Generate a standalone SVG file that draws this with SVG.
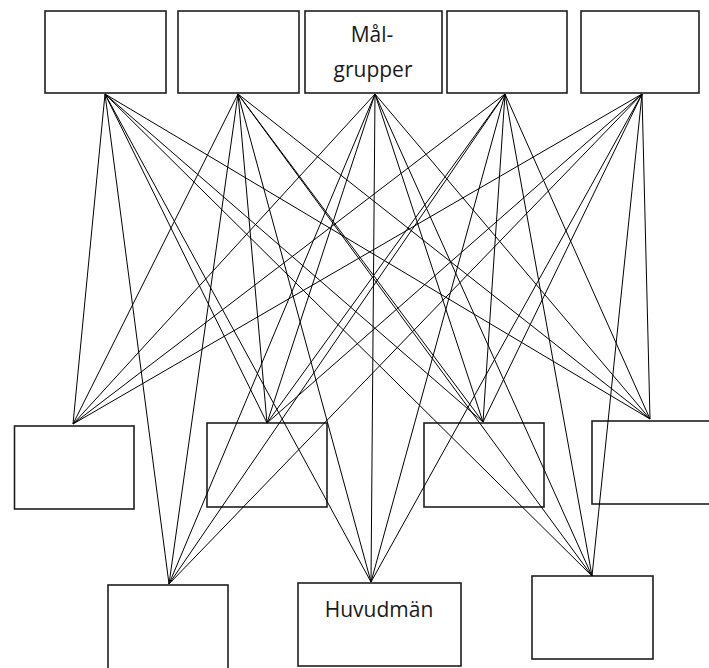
<svg xmlns="http://www.w3.org/2000/svg" width="709" height="668" viewBox="0 0 709 668">
<style>
.box{fill:#fff;stroke:#1e1e1e;stroke-width:1.6}
.lbl{font-family:"Open Sans","Liberation Sans",sans-serif;font-size:21px;fill:#1a1a1a;text-anchor:middle}
#connectors line{stroke:#000;stroke-width:1}
</style>
<rect width="709" height="668" fill="#fff"/>
<g id="top1"><rect class="box" x="45" y="11" width="121" height="82"/></g>
<g id="top2"><rect class="box" x="178" y="11" width="121" height="82"/></g>
<g id="top3"><rect class="box" x="305" y="11" width="137" height="82"/><text class="lbl" x="372" y="42">Mål-</text><text class="lbl" x="373" y="77">grupper</text></g>
<g id="top4"><rect class="box" x="447" y="11" width="120" height="82"/></g>
<g id="top5"><rect class="box" x="581" y="11" width="118" height="82"/></g>
<g id="midA"><rect class="box" x="14.5" y="426" width="119.5" height="83"/></g>
<g id="midB"><rect class="box" x="207" y="423" width="120" height="84" fill="none" style="fill:none"/></g>
<g id="midC"><rect class="box" x="424" y="423" width="120" height="84" style="fill:none"/></g>
<g id="midD"><rect class="box" x="592" y="421" width="120" height="83" style="fill:none"/></g>
<g id="botE"><rect class="box" x="108" y="585" width="120" height="90"/></g>
<g id="botF"><rect class="box" x="298" y="583" width="163" height="83"/><text class="lbl" x="379" y="617">Huvudmän</text></g>
<g id="botG"><rect class="box" x="532" y="576" width="121" height="83"/></g>
<g id="connectors">
<line x1="105" y1="94" x2="73" y2="424"/><line x1="105" y1="94" x2="267" y2="423"/><line x1="105" y1="94" x2="483" y2="422"/><line x1="105" y1="94" x2="650" y2="419"/><line x1="105" y1="94" x2="169" y2="584"/><line x1="105" y1="94" x2="371" y2="582"/><line x1="105" y1="94" x2="592" y2="576"/>
<line x1="238" y1="94" x2="73" y2="424"/><line x1="238" y1="94" x2="267" y2="423"/><line x1="238" y1="94" x2="483" y2="422"/><line x1="238" y1="94" x2="650" y2="419"/><line x1="238" y1="94" x2="169" y2="584"/><line x1="238" y1="94" x2="371" y2="582"/><line x1="238" y1="94" x2="592" y2="576"/>
<line x1="375" y1="94" x2="73" y2="424"/><line x1="375" y1="94" x2="267" y2="423"/><line x1="375" y1="94" x2="483" y2="422"/><line x1="375" y1="94" x2="650" y2="419"/><line x1="375" y1="94" x2="169" y2="584"/><line x1="375" y1="94" x2="371" y2="582"/><line x1="375" y1="94" x2="592" y2="576"/>
<line x1="505" y1="94" x2="73" y2="424"/><line x1="505" y1="94" x2="267" y2="423"/><line x1="505" y1="94" x2="483" y2="422"/><line x1="505" y1="94" x2="650" y2="419"/><line x1="505" y1="94" x2="169" y2="584"/><line x1="505" y1="94" x2="371" y2="582"/><line x1="505" y1="94" x2="592" y2="576"/>
<line x1="642" y1="94" x2="73" y2="424"/><line x1="642" y1="94" x2="267" y2="423"/><line x1="642" y1="94" x2="483" y2="422"/><line x1="642" y1="94" x2="650" y2="419"/><line x1="642" y1="94" x2="169" y2="584"/><line x1="642" y1="94" x2="371" y2="582"/><line x1="642" y1="94" x2="592" y2="576"/>
</g>
</svg>
